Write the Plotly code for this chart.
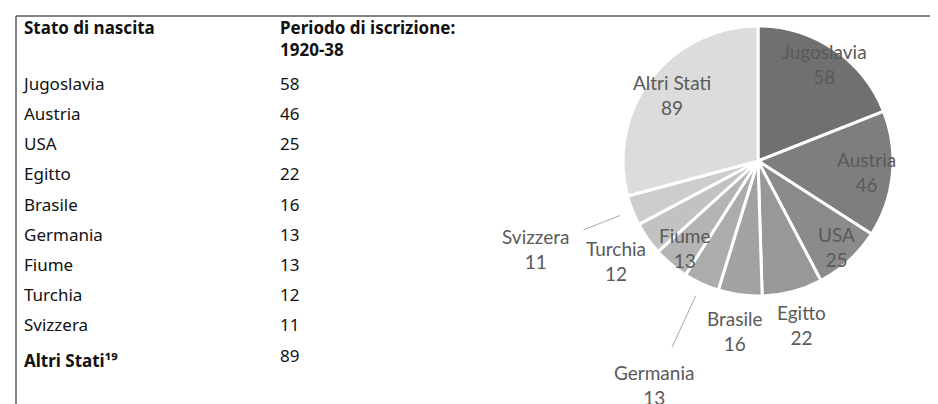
import math
import plotly.graph_objects as go

# ---- data ----
paesi = ["Jugoslavia", "Austria", "USA", "Egitto", "Brasile", "Germania",
         "Fiume", "Turchia", "Svizzera", "Altri Stati"]
iscritti = [58, 46, 25, 22, 16, 13, 13, 12, 11, 89]
header_col1 = "Stato di nascita"
header_col2 = "Periodo di iscrizione:<br>1920-38"
nota_altri = "19"

# ---- styling ----
W, H = 938, 404
slice_colors = ["#707070", "#7e7e7e", "#8b8b8b", "#989898", "#a2a2a2",
                "#acacac", "#b4b4b4", "#c2c2c2", "#cdcdcd", "#dcdcdc"]
# label distance from pie centre (fraction of radius) for each slice
label_r = [0.87, 0.81, 0.86, 1.26, 1.27, 1.83, 0.84, 1.29, 1.77, 0.80]
leaders = {"Svizzera": (1.10, 1.39), "Germania": (1.10, 1.52)}

def px(x):
    return x / W

def py(y):
    return 1 - y / H

# pie geometry in pixels
CX, CY, R = 750, 153, 135

SUP = str.maketrans("0123456789", "⁰¹²³⁴⁵⁶⁷⁸⁹")
col1 = paesi[:-1] + ["<b>" + paesi[-1] + nota_altri.translate(SUP) + "</b>"]
col2 = [str(v) for v in iscritti]

fig = go.Figure()

fig.add_trace(go.Table(
    domain=dict(x=[px(8), px(470)], y=[0, 1]),
    columnwidth=[256, 206],
    header=dict(
        values=["<b>" + header_col1 + "</b>", "<b>" + header_col2 + "</b>"],
        align="left",
        height=45,
        fill_color="rgba(0,0,0,0)",
        line=dict(color="rgba(0,0,0,0)", width=0),
        font=dict(family="Noto Sans", size=17, color="#111111"),
    ),
    cells=dict(
        values=[col1, col2],
        align="left",
        height=30.2,
        fill_color="rgba(0,0,0,0)",
        line=dict(color="rgba(0,0,0,0)", width=0),
        font=dict(family="Noto Sans", size=17, color="#111111"),
    ),
))

fig.add_trace(go.Pie(
    labels=paesi,
    values=iscritti,
    sort=False,
    direction="clockwise",
    rotation=0,
    textinfo="none",
    hoverinfo="label+value",
    marker=dict(colors=slice_colors, line=dict(color="white", width=3)),
    domain=dict(x=[px(CX - R), px(CX + R)], y=[py(CY + R), py(CY - R)]),
    showlegend=False,
))

total = sum(iscritti)
annotations = []
shapes = [
    dict(type="line", xref="paper", yref="paper", x0=px(8), x1=1, y0=py(8), y1=py(8),
         line=dict(color="#5a5a5a", width=1.5)),
    dict(type="line", xref="paper", yref="paper", x0=px(8), x1=px(8), y0=py(8), y1=0,
         line=dict(color="#5a5a5a", width=1.5)),
]
cum = 0
for name, v, f in zip(paesi, iscritti, label_r):
    a = math.radians((cum + v / 2) / total * 360)
    cum += v
    lx = CX + f * R * math.sin(a)
    ly = CY - f * R * math.cos(a)
    annotations.append(dict(
        x=px(lx), y=py(ly), xref="paper", yref="paper",
        text=f"{name}<br>{v}", showarrow=False,
        xanchor="center", yanchor="middle", align="center",
        font=dict(family="Lato", size=19, color="#5a5a5a"),
    ))
    if name in leaders:
        r0, r1 = leaders[name]
        shapes.append(dict(
            type="line", xref="paper", yref="paper",
            x0=px(CX + r0 * R * math.sin(a)), y0=py(CY - r0 * R * math.cos(a)),
            x1=px(CX + r1 * R * math.sin(a)), y1=py(CY - r1 * R * math.cos(a)),
            line=dict(color="#a6a6a6", width=1),
        ))

fig.update_layout(
    width=W, height=H,
    margin=dict(l=0, r=0, t=0, b=0),
    paper_bgcolor="white",
    plot_bgcolor="white",
    annotations=annotations,
    shapes=shapes,
)

fig.write_html("out.html")
